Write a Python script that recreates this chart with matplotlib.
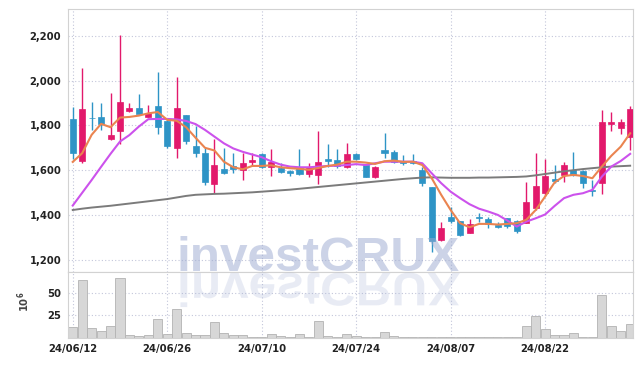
import matplotlib
matplotlib.use('Agg')
import matplotlib.pyplot as plt
from matplotlib.patches import PathPatch
from matplotlib.textpath import TextPath
from matplotlib.font_manager import FontProperties
from matplotlib.transforms import Affine2D

# trading days (KRX), yy/mm/dd
dates = ['24/06/12', '24/06/13', '24/06/14', '24/06/17', '24/06/18', '24/06/19', '24/06/20', '24/06/21',
         '24/06/24', '24/06/25', '24/06/26', '24/06/27', '24/06/28', '24/07/01', '24/07/02', '24/07/03',
         '24/07/04', '24/07/05', '24/07/08', '24/07/09', '24/07/10', '24/07/11', '24/07/12', '24/07/15',
         '24/07/16', '24/07/17', '24/07/18', '24/07/19', '24/07/22', '24/07/23', '24/07/24', '24/07/25',
         '24/07/26', '24/07/29', '24/07/30', '24/07/31', '24/08/01', '24/08/02', '24/08/05', '24/08/06',
         '24/08/07', '24/08/08', '24/08/09', '24/08/12', '24/08/13', '24/08/14', '24/08/16', '24/08/19',
         '24/08/20', '24/08/21', '24/08/22', '24/08/23', '24/08/26', '24/08/27', '24/08/28', '24/08/29',
         '24/08/30', '24/09/02', '24/09/03', '24/09/04']

opens = [1829, 1643, 1835, 1838, 1738, 1777, 1866, 1878, 1838, 1887, 1820, 1701, 1846, 1708, 1676, 1539,
         1604, 1619, 1601, 1637, 1673, 1613, 1609, 1597, 1609, 1583, 1579, 1649, 1644, 1613, 1674, 1622,
         1571, 1691, 1680, 1641, 1643, 1601, 1524, 1288, 1390, 1372, 1321, 1392, 1382, 1355, 1385, 1375,
         1366, 1430, 1497, 1561, 1579, 1601, 1598, 1512, 1542, 1805, 1788, 1747]
highs = [1884, 2058, 1905, 1899, 1944, 2206, 1899, 1941, 1893, 2038, 1832, 2018, 1848, 1798, 1700, 1738,
         1698, 1676, 1676, 1679, 1676, 1696, 1631, 1602, 1694, 1634, 1777, 1717, 1694, 1720, 1678, 1624,
         1620, 1765, 1688, 1667, 1673, 1616, 1526, 1367, 1437, 1374, 1381, 1408, 1390, 1370, 1388, 1378,
         1549, 1676, 1649, 1623, 1638, 1683, 1600, 1556, 1869, 1860, 1829, 1888]
lows = [1649, 1634, 1780, 1779, 1736, 1717, 1860, 1849, 1836, 1761, 1701, 1656, 1717, 1658, 1534, 1500,
        1583, 1586, 1556, 1623, 1612, 1574, 1589, 1576, 1580, 1571, 1539, 1616, 1609, 1611, 1646, 1569,
        1564, 1656, 1633, 1623, 1627, 1531, 1233, 1285, 1366, 1308, 1319, 1367, 1342, 1343, 1341, 1318,
        1362, 1420, 1486, 1542, 1549, 1576, 1519, 1485, 1494, 1777, 1761, 1690]
closes = [1676, 1874, 1831, 1805, 1758, 1905, 1878, 1851, 1856, 1795, 1708, 1877, 1732, 1676, 1549, 1623,
          1589, 1604, 1634, 1646, 1616, 1636, 1594, 1586, 1582, 1613, 1636, 1643, 1619, 1673, 1649, 1571,
          1616, 1679, 1636, 1634, 1631, 1542, 1285, 1341, 1375, 1311, 1358, 1388, 1360, 1348, 1352, 1329,
          1458, 1530, 1574, 1552, 1623, 1579, 1542, 1506, 1814, 1814, 1814, 1874]

# moving averages as drawn
ma5 = [1637, 1676, 1758, 1807, 1792, 1835, 1838, 1844, 1854, 1860, 1825, 1821, 1792, 1745, 1700, 1688,
       1638, 1613, 1604, 1619, 1619, 1622, 1613, 1609, 1606, 1602, 1610, 1619, 1625, 1638, 1638, 1634,
       1628, 1640, 1643, 1637, 1638, 1623, 1564, 1490, 1422, 1363, 1345, 1360, 1360, 1357, 1360, 1363,
       1378, 1422, 1482, 1545, 1574, 1579, 1574, 1564, 1616, 1664, 1705, 1765]
ma20 = [1442, 1499, 1556, 1615, 1673, 1728, 1757, 1795, 1828, 1829, 1829, 1827, 1820, 1806, 1780, 1750,
        1720, 1697, 1682, 1670, 1658, 1640, 1625, 1616, 1613, 1613, 1616, 1619, 1620, 1623, 1627, 1623,
        1631, 1638, 1638, 1638, 1638, 1631, 1586, 1542, 1504, 1475, 1448, 1428, 1415, 1400, 1375, 1348,
        1370, 1385, 1402, 1440, 1475, 1490, 1497, 1512, 1571, 1616, 1641, 1673]
ma60 = [1422, 1428, 1433, 1437, 1441, 1446, 1451, 1456, 1461, 1466, 1471, 1478, 1485, 1490, 1492, 1494,
        1495, 1497, 1499, 1501, 1504, 1507, 1510, 1513, 1517, 1521, 1525, 1529, 1533, 1537, 1541, 1545,
        1549, 1553, 1557, 1561, 1564, 1567, 1568, 1567, 1566, 1566, 1566, 1567, 1567, 1568, 1569, 1570,
        1572, 1577, 1583, 1589, 1595, 1600, 1605, 1609, 1613, 1616, 1618, 1620]

# volume, millions of shares
volume = [11.7, 65.2, 10.6, 7.2, 12.5, 67.4, 2.7, 1.5, 2.7, 20.8, 4.2, 32.2, 4.9, 2.7, 2.7, 17.4,
          4.9, 2.7, 2.3, 1.1, 1.1, 3.8, 1.5, 1.1, 3.8, 1.1, 18.6, 1.9, 1.1, 3.8, 1.5, 1.1,
          0.4, 6.1, 1.5, 0.4, 0.2, 1.1, 1.1, 1.1, 1.1, 0.1, 0.1, 0.1, 0.1, 0.1, 0.1, 0.1,
          12.5, 24.6, 9.5, 2.3, 2.7, 4.9, 1.1, 1.1, 48.5, 12.5, 7.2, 15.2]

price_ticks = [1200, 1400, 1600, 1800, 2000, 2200]
vol_ticks = [25, 50]
date_ticks = [0, 10, 20, 30, 40, 50]

UP = '#e2196b'
DOWN = '#2e94c6'
GRID = '#c3c6da'
SPINE = '#d2d2d2'
TXT = '#222222'

plt.rcParams['font.family'] = ['DejaVu Sans']
plt.rcParams['font.stretch'] = 'condensed'
plt.rcParams['font.weight'] = 'bold'

W, H = 642, 366
fig = plt.figure(figsize=(W / 100, H / 100), dpi=100)
left, right = 68.3, 632.7
ax = fig.add_axes([left / W, 1 - 272 / H, (right - left) / W, (272 - 9.3) / H])
axv = fig.add_axes([left / W, 1 - 337.5 / H, (right - left) / W, (337.5 - 272) / H], sharex=ax)

xs = list(range(len(dates)))
colors = [UP if c >= o else DOWN for o, c in zip(opens, closes)]
bottoms = [min(o, c) for o, c in zip(opens, closes)]
heights = [max(abs(c - o), 2) for o, c in zip(opens, closes)]

ax.vlines(xs, lows, highs, colors=colors, linewidth=1.0, zorder=2)
ax.bar(xs, heights, bottom=bottoms, width=0.64, color=colors, edgecolor=colors,
       linewidth=0.5, zorder=3)
ax.plot(xs, ma60, color='#7b7b7b', linewidth=1.4, zorder=4)
ax.plot(xs, ma20, color='#cc52ec', linewidth=1.5, zorder=4)
ax.plot(xs, ma5, color='#ea8450', linewidth=1.5, zorder=4)

axv.bar(xs, volume, width=0.96, color='#d7d7d7', edgecolor='#b3b3b3', linewidth=0.6, zorder=2)

ax.set_xlim(-0.47, 59.27)
ax.set_ylim(1145, 2319)
axv.set_ylim(0, 74.4)

ax.set_yticks(price_ticks)
ax.set_yticklabels([f'{v:,}' for v in price_ticks])
axv.set_yticks(vol_ticks)
axv.set_xticks(date_ticks)
axv.set_xticklabels([dates[i] for i in date_ticks])
ax.tick_params(labelbottom=False)

for a in (ax, axv):
    a.grid(True, linestyle=(0, (1, 2)), color=GRID, linewidth=0.8, zorder=0)
    a.set_axisbelow(True)
    a.tick_params(length=0, labelsize=8, colors=TXT, pad=5)
    for s in a.spines.values():
        s.set_color(SPINE)
        s.set_linewidth(0.8)

axv.set_ylabel('$10^6$', fontsize=8, color='#444444')
axv.yaxis.set_label_coords(-0.064, 0.54)

# watermark and its reflection
wm_px = 49.5
fig.text(177 / W, 1 - 271 / H, 'investCRUX', fontsize=wm_px * 0.72, color='#9aa8d0', alpha=0.5,
         family='Liberation Sans', weight='bold', stretch='normal', va='baseline', zorder=10)
tp = TextPath((0, 0), 'investCRUX', size=wm_px,
              prop=FontProperties(family='Liberation Sans', weight='bold'))
refl = PathPatch(tp, transform=Affine2D().scale(1, -0.95).translate(177, H - 273),
                 facecolor='#9aa8d0', edgecolor='none', alpha=0.22, zorder=10)
fig.add_artist(refl)

fig.savefig('out.png', dpi=100)
